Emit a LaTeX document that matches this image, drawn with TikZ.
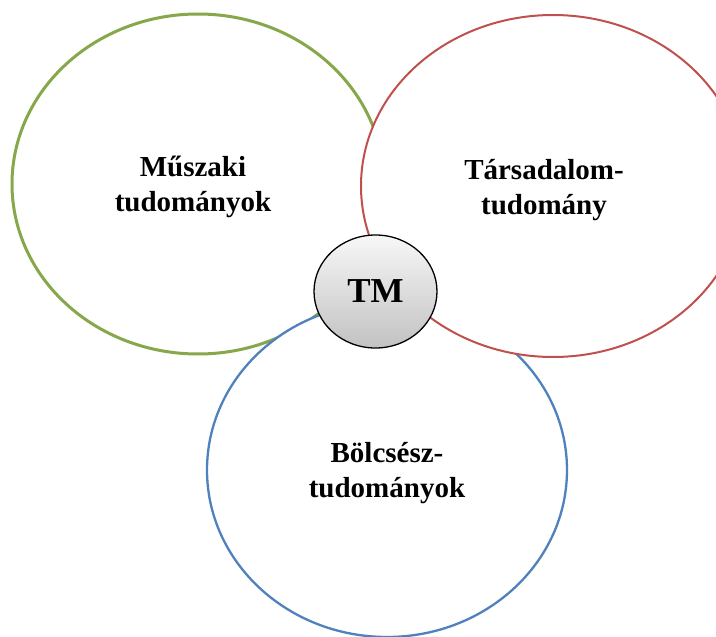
\documentclass[tikz,border=0pt]{standalone}
\usepackage{fontspec}
\setmainfont{Liberation Serif}
\usetikzlibrary{shapes.geometric}
\definecolor{fieldgreen}{HTML}{86A84A}
\definecolor{fieldred}{HTML}{C0504D}
\definecolor{fieldblue}{HTML}{4F81BD}
\tikzset{
  field/.style={ellipse, fill=white, inner sep=0pt},
  fieldtext/.style={align=center, font=\fontsize{29}{35}\selectfont\bfseries},
  core/.style={ellipse, draw=black, line width=1.3pt, top color=gray!6, bottom color=gray!48,
    minimum width=123pt, minimum height=113pt, inner sep=0pt,
    font=\fontsize{35}{38}\selectfont\bfseries}
}
\begin{document}
\begin{tikzpicture}[x=1pt,y=-1pt]
  \useasboundingbox (0,0) rectangle (716,637);
  \begin{scope}
    \clip (0,0) rectangle (716,637);
    % three overlapping fields, drawn back to front
    \node[field, draw=fieldgreen, line width=3pt, minimum width=372pt, minimum height=340pt] (tech) at (198,184) {};
    \node[field, draw=fieldblue, line width=2.3pt, minimum width=360pt, minimum height=334pt] (hum) at (387,470) {};
    \node[field, draw=fieldred, line width=2pt, minimum width=384pt, minimum height=342pt] (soc) at (553,186) {};
  \end{scope}
  \node[fieldtext] (techlabel) at (193,187) {Műszaki\\tudományok};
  \node[fieldtext] (soclabel) at (544,190) {Társadalom-\\tudomány};
  \node[fieldtext] (humlabel) at (387,473) {Bölcsész-\\tudományok};
  \node[core] (tm) at (375.5,291.5) {TM};
\end{tikzpicture}
\end{document}
